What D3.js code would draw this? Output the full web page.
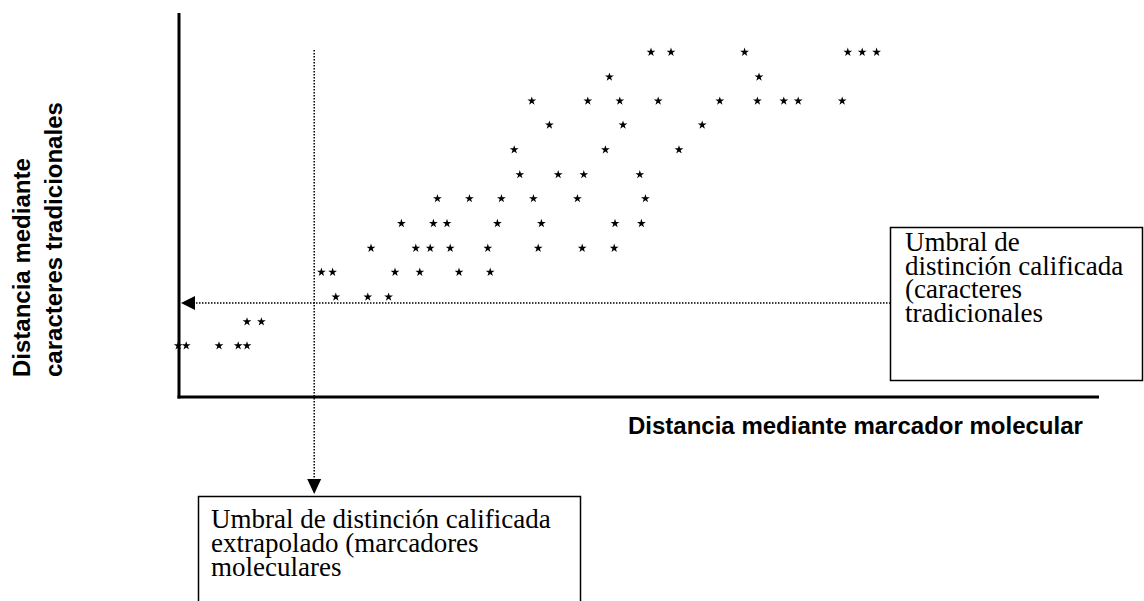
<!DOCTYPE html>
<html lang="es">
<head>
<meta charset="UTF-8">
<title>Umbral de distinción calificada</title>
<script src="https://cdn.jsdelivr.net/npm/d3@7"></script>
<style>
  body { margin: 0; background: #fff; }
  svg { display: block; }
  .lbl { font-family: "Liberation Sans", Arial, sans-serif; font-weight: bold; font-size: 24px; }
  .box text { font-family: "Liberation Serif", "Times New Roman", serif; font-size: 27px; }
</style>
</head>
<body>
<div id="chart"></div>
<script>
// traditional-character distance of each row of points
var rowLevels = [43.1, 40.0, 37.0, 34.0, 30.9, 27.8, 24.8, 21.7, 18.6, 15.6, 12.5, 9.4, 6.4];
// molecular-marker distance of the points in each row
var rowMarker = [
  [59.0, 61.5, 70.7, 83.6, 85.4, 87.2],
  [53.8, 72.5],
  [44.1, 51.1, 55.1, 59.9, 67.6, 72.3, 75.6, 77.4, 82.9],
  [46.3, 55.5, 65.4],
  [41.9, 53.3, 62.5],
  [42.6, 47.4, 50.6, 57.6],
  [32.3, 36.3, 40.3, 44.3, 49.8, 58.3],
  [27.8, 31.8, 33.5, 39.8, 45.3, 54.5, 57.8],
  [24.0, 29.6, 31.4, 33.9, 38.6, 44.9, 50.4, 54.4],
  [17.8, 19.2, 27.0, 30.1, 35.0, 38.9],
  [19.6, 23.6, 26.2],
  [8.5, 10.3],
  [-0.1, 0.9, 5.0, 7.4, 8.5]
];
var thresholdTraditional = 11.75;
var thresholdMolecular = 16.9;
var xTitle = "Distancia mediante marcador molecular";
var yTitle = ["Distancia mediante", "caracteres tradicionales"];
var noteTraditional = ["Umbral de", "distinción calificada", "(caracteres", "tradicionales"];
var noteMolecular = ["Umbral de distinción calificada", "extrapolado (marcadores", "moleculares"];

var W = 1144, H = 601;
var svg = d3.select("#chart").append("svg").attr("width", W).attr("height", H);

var x = d3.scaleLinear().domain([0, 120]).range([179, 1139]);
var y = d3.scaleLinear().domain([0, 48]).range([397, 13]);

var points = [];
rowLevels.forEach(function(lv, i) {
  rowMarker[i].forEach(function(m) { points.push({x: m, y: lv}); });
});

// threshold guides (dotted)
var ty = y(thresholdTraditional), tx = x(thresholdMolecular);
svg.append("line")
  .attr("x1", x(0) + 14).attr("x2", 890)
  .attr("y1", ty).attr("y2", ty)
  .attr("stroke", "#000").attr("stroke-width", 1.5).attr("stroke-dasharray", "1.5,1.5");
svg.append("path")
  .attr("d", "M" + (x(0) + 2) + "," + ty + "L" + (x(0) + 16) + "," + (ty - 7) + "L" + (x(0) + 16) + "," + (ty + 7) + "Z")
  .attr("fill", "#000");

svg.append("line")
  .attr("x1", tx).attr("x2", tx)
  .attr("y1", 50).attr("y2", 480)
  .attr("stroke", "#000").attr("stroke-width", 1.5).attr("stroke-dasharray", "1.5,1.5");
svg.append("path")
  .attr("d", "M" + tx + ",494L" + (tx - 7) + ",479L" + (tx + 7) + ",479Z")
  .attr("fill", "#000");

// axes as plain thick lines
svg.append("line")
  .attr("x1", x(0)).attr("x2", x(0)).attr("y1", y(48)).attr("y2", y(0) + 1.5)
  .attr("stroke", "#000").attr("stroke-width", 3);
svg.append("line")
  .attr("x1", x(0) - 1.5).attr("x2", x(115)).attr("y1", y(0)).attr("y2", y(0))
  .attr("stroke", "#000").attr("stroke-width", 3);

// points
var star = d3.symbol().type(d3.symbolStar).size(24);
svg.selectAll(".pt")
  .data(points)
  .enter().append("path")
  .attr("class", "pt")
  .attr("d", star)
  .attr("transform", function(d) { return "translate(" + x(d.x) + "," + y(d.y) + ")"; })
  .attr("fill", "#000");

// axis titles
svg.append("text").attr("class", "lbl")
  .attr("x", 628).attr("y", 434)
  .text(xTitle);

yTitle.forEach(function(t, i) {
  svg.append("text").attr("class", "lbl")
    .attr("transform", "translate(" + (30 + i * 32) + ",377) rotate(-90)")
    .text(t);
});

// note boxes
function noteBox(x0, y0, w, h, lines, tx0, ty0, lh) {
  var g = svg.append("g").attr("class", "box");
  g.append("rect")
    .attr("x", x0).attr("y", y0).attr("width", w).attr("height", h)
    .attr("fill", "#fff").attr("stroke", "#000").attr("stroke-width", 1.5);
  lines.forEach(function(t, i) {
    g.append("text").attr("x", tx0).attr("y", ty0 + i * lh).text(t);
  });
}
noteBox(890.5, 227.5, 252, 153, noteTraditional, 905, 251, 23.5);
noteBox(198.5, 496.5, 382, 140, noteMolecular, 211, 528, 24);
</script>
</body>
</html>
